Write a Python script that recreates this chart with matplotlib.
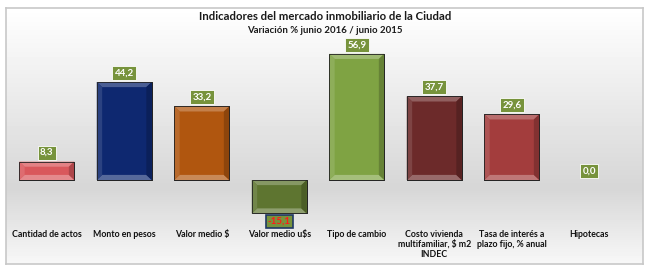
import numpy as np
import matplotlib.pyplot as plt
import matplotlib.colors as mcolors
from matplotlib.patches import Rectangle, Polygon

plt.rcParams['font.family'] = ['Lato', 'DejaVu Sans']

# data
categories = ['Cantidad de actos', 'Monto en pesos', 'Valor medio $', 'Valor medio u$s',
              'Tipo de cambio', 'Costo vivienda\nmultifamiliar, $ m2\nINDEC',
              'Tasa de interés a\nplazo fijo, % anual', 'Hipotecas']
values = [8.3, 44.2, 33.2, -15.1, 56.9, 37.7, 29.6, 0.0]
colors = ['#D9585C', '#0E2870', '#B0560F', '#5E7530', '#7FA343', '#6C2A2A', '#A33D3D', '#7FA343']

W, H = 650, 271
fig = plt.figure(figsize=(W / 100, H / 100), dpi=100)
fig.patch.set_facecolor('white')

# background panel with gradient
bg = fig.add_axes([6 / W, 1 - 264 / H, 637 / W, 256 / H])
grad = np.concatenate([np.linspace(1.0, 0.84, 180), np.linspace(0.84, 0.97, 76)])
bg.imshow(grad[:, None], aspect='auto', cmap='gray', vmin=0, vmax=1, extent=[0, 1, 0, 1])
bg.set_xticks([]); bg.set_yticks([])
for s in bg.spines.values():
    s.set_color('#c8c8c8')
    s.set_linewidth(1.2)

fig.text(0.5, 1 - 17 / H, 'Indicadores del mercado inmobiliario de la Ciudad',
         ha='center', va='center', fontsize=8.2, fontweight='bold', color='#1a1a1a')
fig.text(0.5, 1 - 30.5 / H, 'Variación % junio 2016 / junio 2015',
         ha='center', va='center', fontsize=6.9, fontweight='bold', color='#1a1a1a')

# main axes
ymin, ymax = -20, 62
ppu = 2.217
top_px = 180 - ymax * ppu
bot_px = 180 - ymin * ppu
ax = fig.add_axes([8 / W, 1 - bot_px / H, 620 / W, (bot_px - top_px) / H])
ax.set_xlim(-0.5, len(categories) - 0.5)
ax.set_ylim(ymin, ymax)
ax.axis('off')

x = np.arange(len(categories))
bw = 0.71
lws = [0.6 if v != 0 else 0 for v in values]
bars = ax.bar(x, values, width=bw, color=colors, edgecolor='#222222', linewidth=lws, zorder=3)

def shade(c, f):
    r = np.array(mcolors.to_rgb(c))
    if f > 0:
        return tuple(r + (1 - r) * f)
    return tuple(r * (1 + f))

# bevel look
dx, dy = 0.07, 2.3
for b, c in zip(bars, colors):
    h = b.get_height()
    if abs(h) < 1e-6:
        continue
    x0, x1 = b.get_x(), b.get_x() + b.get_width()
    y0, y1 = min(0, h), max(0, h)
    ix0, ix1, iy0, iy1 = x0 + dx, x1 - dx, y0 + dy, y1 - dy
    ax.add_patch(Polygon([(x0, y1), (x1, y1), (ix1, iy1), (ix0, iy1)], closed=True,
                         facecolor=shade(c, 0.25), edgecolor='none', zorder=4))
    ax.add_patch(Polygon([(x0, y0), (x1, y0), (ix1, iy0), (ix0, iy0)], closed=True,
                         facecolor=shade(c, 0.3), edgecolor='none', zorder=4))
    ax.add_patch(Polygon([(x0, y0), (x0, y1), (ix0, iy1), (ix0, iy0)], closed=True,
                         facecolor=shade(c, 0.12), edgecolor='none', zorder=4))
    ax.add_patch(Polygon([(x1, y0), (x1, y1), (ix1, iy1), (ix1, iy0)], closed=True,
                         facecolor=shade(c, -0.2), edgecolor='none', zorder=4))
    ax.add_patch(Rectangle((x0, y0), x1 - x0, y1 - y0, facecolor='none',
                           edgecolor='#222222', linewidth=0.6, zorder=5))

# value labels
for xi, v in zip(x, values):
    txt = f'{v:.1f}'.replace('.', ',')
    if v < 0:
        ax.annotate(txt, (xi, v), xytext=(0, -5.5), textcoords='offset points',
                    ha='center', va='center', fontsize=7, fontweight='bold', color='#ff1a1a',
                    bbox=dict(boxstyle='square,pad=0.2', facecolor='#77933C',
                              edgecolor='#1F3864', linewidth=1.2),
                    zorder=6, annotation_clip=False)
    else:
        ax.annotate(txt, (xi, v), xytext=(0, 6.5), textcoords='offset points',
                    ha='center', va='center', fontsize=7, fontweight='bold', color='white',
                    bbox=dict(boxstyle='square,pad=0.25', facecolor='#77933C',
                              edgecolor='white', linewidth=0.6),
                    zorder=6, annotation_clip=False)

# category labels
for xi, cat in zip(x, categories):
    fig.text((8 + (xi + 0.5) * 620 / len(categories)) / W, 1 - 230 / H, cat,
             ha='center', va='top', fontsize=6.3, fontweight='bold', color='#111111',
             linespacing=1.1)

fig.savefig('out.png', dpi=100)
